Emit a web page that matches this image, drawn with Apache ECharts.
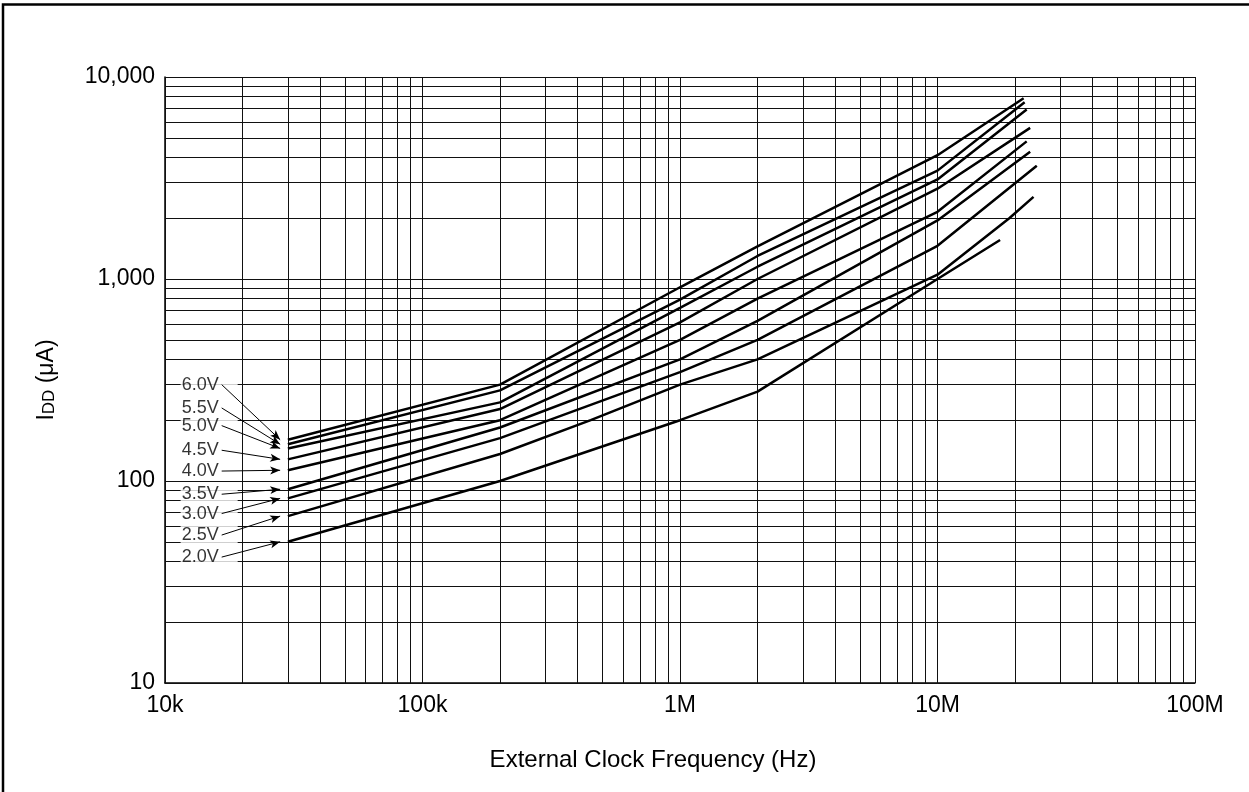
<!DOCTYPE html>
<html>
<head>
<meta charset="utf-8">
<script src="https://cdn.jsdelivr.net/npm/echarts@6/dist/echarts.min.js"></script>
<style>
  html, body { margin: 0; padding: 0; background: #fff; }
  #chart { width: 1249px; height: 792px; }
</style>
</head>
<body>
<div id="chart"></div>
<script>
// supply voltage of each curve, top to bottom
const voltages = ['6.0V', '5.5V', '5.0V', '4.5V', '4.0V', '3.5V', '3.0V', '2.5V', '2.0V'];

// [frequency Hz, IDD uA]
const curve60 = [[3e4, 160], [2e5, 300], [1e6, 910], [2e6, 1450], [1e7, 4100], [2.16e7, 7850]];
const curve55 = [[3e4, 152], [2e5, 281], [1e6, 790], [2e6, 1300], [1e7, 3440], [2.18e7, 7500]];
const curve50 = [[3e4, 145], [2e5, 245], [1e6, 720], [2e6, 1150], [1e7, 3110], [2.22e7, 6900]];
const curve45 = [[3e4, 128], [2e5, 227], [1e6, 610], [2e6, 1000], [1e7, 2800], [2.29e7, 5600]];
const curve40 = [[3e4, 113], [2e5, 200], [1e6, 500], [2e6, 800], [1e7, 2150], [2.22e7, 4800]];
const curve35 = [[3e4, 91], [2e5, 184], [1e6, 400], [2e6, 620], [1e7, 1950], [2.29e7, 4270]];
const curve30 = [[3e4, 82], [2e5, 163], [1e6, 346], [2e6, 500], [1e7, 1460], [2.43e7, 3640]];
const curve25 = [[3e4, 67], [2e5, 136], [4.5e5, 200], [1e6, 300], [2e6, 400], [1e7, 1050], [1.9e7, 2000], [2.36e7, 2550]];
const curve20 = [[3e4, 50], [2e5, 100], [1e6, 200], [2e6, 277], [1e7, 1000], [1.75e7, 1560]];

// where the voltage labels sit on the IDD scale
const labelValues = [300, 230, 188, 142, 112, 86, 69, 54, 42];

// axis ticks
const xTickValues = [1e4, 1e5, 1e6, 1e7, 1e8];
const xTickText = ['10k', '100k', '1M', '10M', '100M'];
const yTickValues = [10, 100, 1000, 10000];
const yTickText = ['10', '100', '1,000', '10,000'];
const minorSteps = [2, 3, 4, 5, 6, 7, 8, 9];

const curves = [curve60, curve55, curve50, curve45, curve40, curve35, curve30, curve25, curve20];

const LABEL_X = 11.5e3;
const ARROW_FROM_X = 16.6e3;
const ARROW_TO_X = 28e3;
const FONT = '"Liberation Sans", Arial, sans-serif';

// grid lines: decades plus 2..9 inside each decade
const gridLines = [];
xTickValues.forEach((d, i) => {
  gridLines.push({ xAxis: d });
  if (i < xTickValues.length - 1) minorSteps.forEach(m => gridLines.push({ xAxis: d * m }));
});
yTickValues.forEach((d, i) => {
  gridLines.push({ yAxis: d });
  if (i < yTickValues.length - 1) minorSteps.forEach(m => gridLines.push({ yAxis: d * m }));
});

const chart = echarts.init(document.getElementById('chart'), null, { renderer: 'canvas' });

const tickIndex = (vals, v) => {
  const e = Math.round(Math.log10(v));
  return vals.findIndex(t => Math.round(Math.log10(t)) === e);
};

const option = {
  backgroundColor: '#fff',
  animation: false,
  textStyle: { fontFamily: FONT },
  grid: { left: 165, top: 77, right: 54, bottom: 109 },
  xAxis: {
    type: 'log',
    logBase: 10,
    min: 1e4,
    max: 1e8,
    name: 'External Clock Frequency (Hz)',
    nameLocation: 'middle',
    nameGap: 65,
    nameTextStyle: { fontSize: 24, color: '#000', fontFamily: FONT, padding: [0, 54, 0, 0] },
    axisLine: { show: true, lineStyle: { color: '#000', width: 1.5 } },
    axisTick: { show: false },
    splitLine: { show: false },
    axisLabel: {
      fontSize: 23,
      color: '#000',
      fontFamily: FONT,
      margin: 11,
      formatter: v => xTickText[tickIndex(xTickValues, v)] || ''
    }
  },
  yAxis: {
    type: 'log',
    logBase: 10,
    min: 10,
    max: 10000,
    name: '{a|I}{b|DD}{a| (μA)}',
    nameLocation: 'middle',
    nameGap: 107,
    nameRotate: 90,
    nameTextStyle: {
      rich: {
        a: { fontSize: 23, color: '#000', fontFamily: FONT },
        b: { fontSize: 17, color: '#000', fontFamily: FONT, verticalAlign: 'bottom' }
      }
    },
    axisLine: { show: true, lineStyle: { color: '#000', width: 1.5 } },
    axisTick: { show: false },
    splitLine: { show: false },
    axisLabel: {
      fontSize: 23,
      color: '#000',
      fontFamily: FONT,
      margin: 10,
      formatter: v => yTickText[tickIndex(yTickValues, v)] || ''
    }
  },
  graphic: [{
    type: 'rect',
    shape: { x: 3, y: 4.5, width: 1260, height: 800 },
    style: { fill: 'none', stroke: '#000', lineWidth: 2.5 },
    silent: true,
    z: 100
  }],
  series: [
    {
      name: 'grid',
      type: 'line',
      data: [],
      silent: true,
      z: 1,
      markLine: {
        silent: true,
        symbol: ['none', 'none'],
        label: { show: false },
        lineStyle: { color: '#111', width: 1, type: 'solid' },
        emphasis: { disabled: true },
        z: 1,
        data: gridLines
      }
    },
    ...curves.map((c, i) => ({
      name: voltages[i],
      type: 'line',
      data: c,
      symbol: 'none',
      silent: true,
      z: 3,
      lineStyle: { color: '#000', width: 2.5 }
    })),
    {
      name: 'labels',
      type: 'scatter',
      z: 6,
      silent: true,
      symbolSize: 0,
      data: labelValues.map((v, i) => ({ value: [LABEL_X, v], name: voltages[i] })),
      label: {
        show: true,
        position: 'right',
        distance: 0,
        formatter: p => p.name,
        fontSize: 18,
        fontFamily: FONT,
        color: '#000',
        backgroundColor: '#fff',
        padding: [1, 19, 0, 1]
      },
      markLine: {
        silent: true,
        z: 7,
        symbol: ['none', 'arrow'],
        symbolSize: [6, 10],
        label: { show: false },
        lineStyle: { color: '#000', width: 1, type: 'solid' },
        emphasis: { disabled: true },
        data: labelValues.map((v, i) => [
          { coord: [ARROW_FROM_X, v] },
          { coord: [ARROW_TO_X, curves[i][0][1]] }
        ])
      }
    }
  ]
};

chart.setOption(option);
</script>
</body>
</html>
